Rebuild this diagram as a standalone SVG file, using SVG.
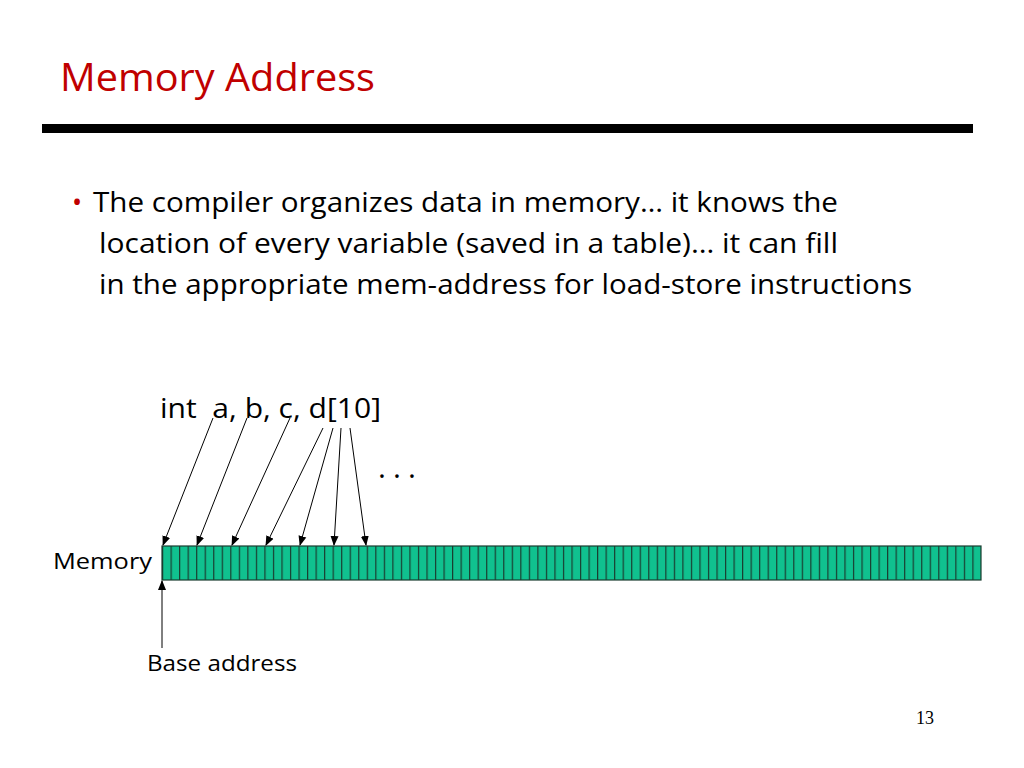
<svg xmlns="http://www.w3.org/2000/svg" width="1024" height="768" viewBox="0 0 1024 768">
<style>
text{font-family:"Open Sans","Noto Sans","Liberation Sans",sans-serif;fill:#000}
.a{stroke:#000;stroke-width:1;fill:none;marker-end:url(#ah)}
</style>
<defs>
<marker id="ah" markerWidth="10" markerHeight="10" refX="9" refY="5" orient="auto" markerUnits="userSpaceOnUse"><path d="M0,1 L10,5 L0,9 Z" fill="#000"/></marker>
<pattern id="cells" x="162" y="0" width="8.53" height="40" patternUnits="userSpaceOnUse"><rect x="0" y="0" width="8.53" height="40" fill="#10C18F"/><line x1="0.6" y1="0" x2="0.6" y2="40" stroke="#1a3d30" stroke-width="1.2"/></pattern>
</defs>
<rect width="1024" height="768" fill="#fff"/>
<g id="title">
<text x="60" y="91" font-size="38" textLength="315" lengthAdjust="spacingAndGlyphs" style="fill:#C00000">Memory Address</text>
<rect x="42" y="124" width="931" height="9" fill="#000"/>
</g>
<g id="bullet">
<text x="72" y="212" font-size="27" style="fill:#C00000">•</text>
<text x="93" y="212" font-size="28" textLength="745" lengthAdjust="spacingAndGlyphs">The compiler organizes data in memory… it knows the</text>
<text x="99" y="253" font-size="28" textLength="739" lengthAdjust="spacingAndGlyphs">location of every variable (saved in a table)… it can fill</text>
<text x="99" y="294" font-size="28" textLength="813" lengthAdjust="spacingAndGlyphs">in the appropriate mem-address for load-store instructions</text>
</g>
<g id="decl"><text x="160" y="418" font-size="28" textLength="221" lengthAdjust="spacingAndGlyphs" xml:space="preserve">int  a, b, c, d[10]</text></g>
<g id="dots"><text x="378" y="478" font-size="30" textLength="44" letter-spacing="6">...</text></g>
<g id="memory">
<text x="53" y="569" font-size="22" textLength="99" lengthAdjust="spacingAndGlyphs">Memory</text>
<rect x="162" y="546" width="819" height="34" fill="url(#cells)" stroke="#1a3d30" stroke-width="1.2"/>
</g>
<g id="base"><text x="147" y="671" font-size="22" textLength="150" lengthAdjust="spacingAndGlyphs">Base address</text></g>
<g id="page"><text x="916" y="724" font-size="18" style="font-family:'Liberation Serif',serif">13</text></g>
<g id="connectors">
<line class="a" x1="213" y1="418" x2="163" y2="545"/>
<line class="a" x1="247" y1="418" x2="197" y2="545"/>
<line class="a" x1="290" y1="418" x2="232" y2="545"/>
<line class="a" x1="323" y1="428" x2="266" y2="545"/>
<line class="a" x1="333" y1="428" x2="300" y2="545"/>
<line class="a" x1="341" y1="428" x2="334" y2="545"/>
<line class="a" x1="350" y1="428" x2="366" y2="545"/>
<line class="a" x1="162" y1="648" x2="162" y2="581"/>
</g>
</svg>
